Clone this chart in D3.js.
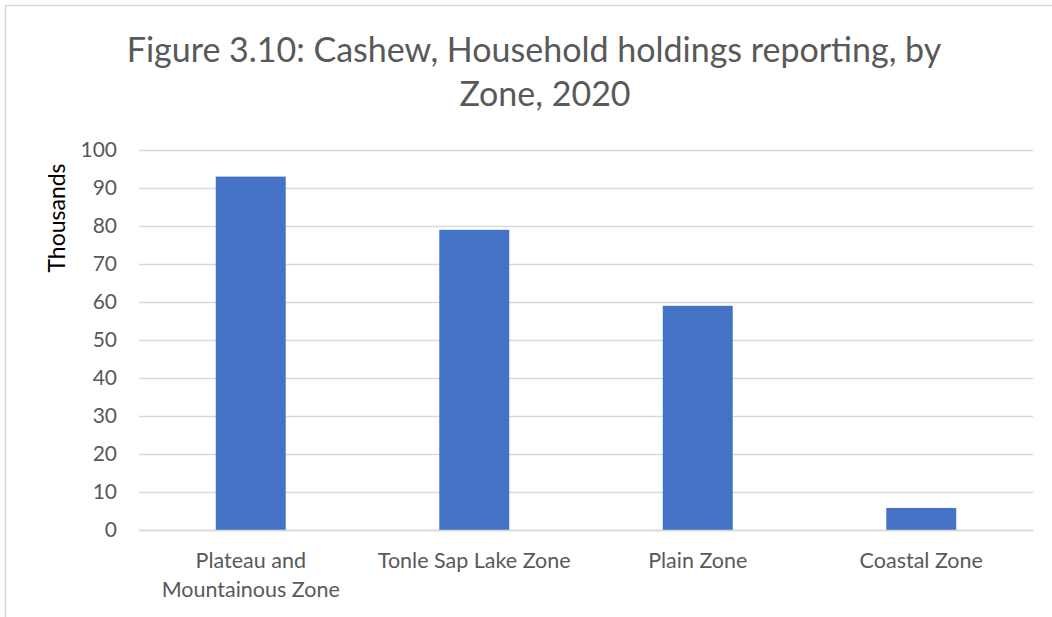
<!DOCTYPE html>
<html>
<head>
<meta charset="utf-8">
<script src="https://cdn.jsdelivr.net/npm/d3@7"></script>
<style>
  body { margin: 0; background: #fff; }
  svg { display: block; font-family: Lato, "Open Sans", sans-serif; }
</style>
</head>
<body>
<div id="chart"></div>
<script>
// chart values (thousands of holdings)
const zones = ["Plateau and Mountainous Zone", "Tonle Sap Lake Zone", "Plain Zone", "Coastal Zone"];
const zoneLines = [["Plateau and", "Mountainous Zone"], ["Tonle Sap Lake Zone"], ["Plain Zone"], ["Coastal Zone"]];
const holdings = [93, 79, 59, 5.8];
const yTicks = [0, 10, 20, 30, 40, 50, 60, 70, 80, 90, 100];
const titleLines = ["Figure 3.10: Cashew, Household holdings reporting, by", "Zone, 2020"];

const width = 1052, height = 617;
const padd = {left: 139, right: 19, top: 150, bottom: 87};

const svg = d3.select("#chart")
  .append("svg")
  .attr("width", width)
  .attr("height", height);

// frame (top + left edge visible)
svg.append("line")
  .attr("x1", 5).attr("x2", width).attr("y1", 5.5).attr("y2", 5.5)
  .attr("stroke", "#d9d9d9").attr("stroke-width", 1.5);
svg.append("line")
  .attr("x1", 5.5).attr("x2", 5.5).attr("y1", 5).attr("y2", height)
  .attr("stroke", "#d9d9d9").attr("stroke-width", 1.5);

// title, second line sits a bit right of the first like the original
const titleX = [534, 545];
svg.append("text")
  .attr("text-anchor", "middle")
  .attr("fill", "#595959")
  .style("font-size", "34px")
  .selectAll("tspan")
  .data(titleLines)
  .enter()
  .append("tspan")
  .attr("x", (d, i) => titleX[i])
  .attr("y", (d, i) => 62 + i * 44)
  .text(d => d);

// scales
const yScale = d3.scaleLinear()
  .domain([0, 100])
  .range([height - padd.bottom, padd.top]);

const xScale = d3.scaleBand()
  .domain(zones)
  .range([padd.left, width - padd.right])
  .paddingInner(0.687)
  .paddingOuter(0.3435);

// gridlines
const yAxis = d3.axisLeft(yScale)
  .tickValues(yTicks)
  .tickSize(-(width - padd.left - padd.right))
  .tickPadding(22);

const gy = svg.append("g")
  .attr("transform", `translate(${padd.left},0)`)
  .call(yAxis);
gy.select(".domain").remove();
gy.selectAll(".tick line").attr("stroke", "#d9d9d9").attr("stroke-width", 1.5);
gy.selectAll(".tick text")
  .attr("fill", "#595959")
  .style("font-size", "21px")
  .style("font-family", "Lato, 'Open Sans', sans-serif");

// y axis title
svg.append("text")
  .attr("transform", `translate(65,218) rotate(-90)`)
  .attr("text-anchor", "middle")
  .attr("fill", "#000")
  .style("font-size", "23px")
  .text("Thousands");

// bars
svg.append("g")
  .selectAll("rect")
  .data(holdings)
  .enter()
  .append("rect")
  .attr("x", (d, i) => xScale(zones[i]))
  .attr("y", d => yScale(d))
  .attr("width", xScale.bandwidth())
  .attr("height", d => yScale(0) - yScale(d))
  .attr("fill", "#4472c4");

// category axis
const xAxis = d3.axisBottom(xScale).tickSize(0).tickFormat("");
const gx = svg.append("g")
  .attr("transform", `translate(0,${yScale(0)})`)
  .call(xAxis);
gx.select(".domain").attr("stroke", "#d9d9d9").attr("stroke-width", 1.5);

const labels = svg.append("g")
  .selectAll("text")
  .data(zones)
  .enter()
  .append("text")
  .attr("text-anchor", "middle")
  .attr("fill", "#595959")
  .style("font-size", "21.5px");
labels.selectAll("tspan")
  .data((d, i) => zoneLines[i].map(t => ({t: t, c: d})))
  .enter()
  .append("tspan")
  .attr("x", d => xScale(d.c) + xScale.bandwidth() / 2)
  .attr("y", (d, i) => 568 + i * 29)
  .text(d => d.t);
</script>
</body>
</html>
